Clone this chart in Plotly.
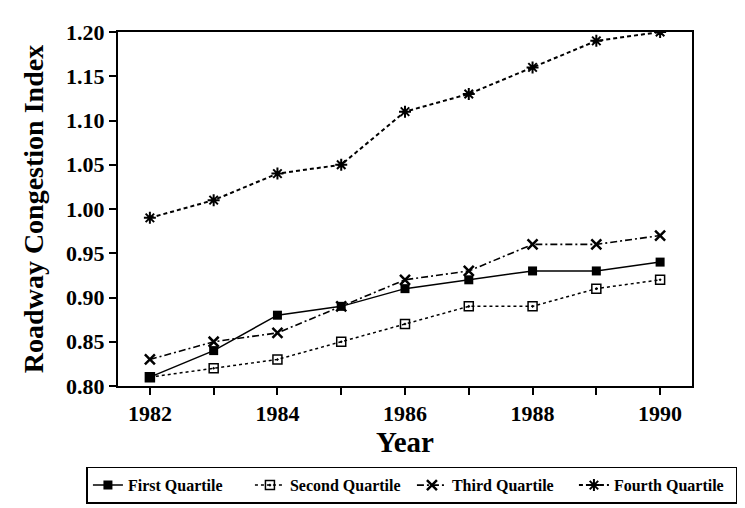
import plotly.graph_objects as go

years = [1982, 1983, 1984, 1985, 1986, 1987, 1988, 1989, 1990]
first_q = [0.81, 0.84, 0.88, 0.89, 0.91, 0.92, 0.93, 0.93, 0.94]
second_q = [0.81, 0.82, 0.83, 0.85, 0.87, 0.89, 0.89, 0.91, 0.92]
third_q = [0.83, 0.85, 0.86, 0.89, 0.92, 0.93, 0.96, 0.96, 0.97]
fourth_q = [0.99, 1.01, 1.04, 1.05, 1.11, 1.13, 1.16, 1.19, 1.20]

x_tickvals = [1982, 1984, 1986, 1988, 1990]
y_tickvals = [0.80, 0.85, 0.90, 0.95, 1.00, 1.05, 1.10, 1.15, 1.20]

FONT = "Liberation Serif"

fig = go.Figure()
fig.add_trace(go.Scatter(x=years, y=first_q, name="First Quartile", mode="lines+markers",
                         line=dict(color="black", width=1.5, dash="solid"),
                         marker=dict(symbol="square", size=9, color="black")))
fig.add_trace(go.Scatter(x=years, y=second_q, name="Second Quartile", mode="lines+markers",
                         line=dict(color="black", width=1.5, dash="dot"),
                         marker=dict(symbol="square-open-dot", size=9, color="black", line=dict(width=1.5))))
fig.add_trace(go.Scatter(x=years, y=third_q, name="Third Quartile", mode="lines+markers",
                         line=dict(color="black", width=1.6, dash="7px,3px,2px,3px"),
                         marker=dict(symbol="x-thin-open", size=10, color="black", line=dict(width=2.5, color="black"))))
fig.add_trace(go.Scatter(x=years, y=fourth_q, name="Fourth Quartile", mode="lines+markers",
                         line=dict(color="black", width=2, dash="4px,3px"),
                         marker=dict(symbol="asterisk-open", size=10, color="black", line=dict(width=2, color="black"))))

fig.update_layout(
    width=745, height=508,
    margin=dict(l=110, r=61, t=16, b=120),
    paper_bgcolor="white", plot_bgcolor="white",
    font=dict(family=FONT, color="black"),
    showlegend=True,
    legend=dict(orientation="h", x=-0.055, xanchor="left", y=-0.228, yanchor="top",
                bordercolor="black", borderwidth=1.5,
                font=dict(family=FONT, size=16, weight="bold"),
                entrywidth=117, entrywidthmode="pixels",
                itemwidth=30, tracegroupgap=0),
)
fig.update_xaxes(range=[1981.5, 1990.5], tickvals=years,
                 ticktext=[str(y) if y in x_tickvals else "" for y in years],
                 ticks="outside", ticklen=7, tickwidth=1.5, tickcolor="black",
                 showline=True, linecolor="black", linewidth=2, mirror=True,
                 showgrid=False, zeroline=False,
                 tickfont=dict(family=FONT, size=22, weight="bold"),
                 title=dict(text="Year", font=dict(family=FONT, size=29, weight="bold"), standoff=4))
fig.update_yaxes(range=[0.80, 1.20], tickvals=y_tickvals, tickformat=".2f",
                 ticks="outside", ticklen=7, tickwidth=1.5, tickcolor="black",
                 showline=True, linecolor="black", linewidth=2, mirror=True,
                 showgrid=False, zeroline=False,
                 tickfont=dict(family=FONT, size=22, weight="bold"),
                 title=dict(text="Roadway Congestion Index", font=dict(family=FONT, size=28, weight="bold"), standoff=14))

fig.write_html("out.html")
